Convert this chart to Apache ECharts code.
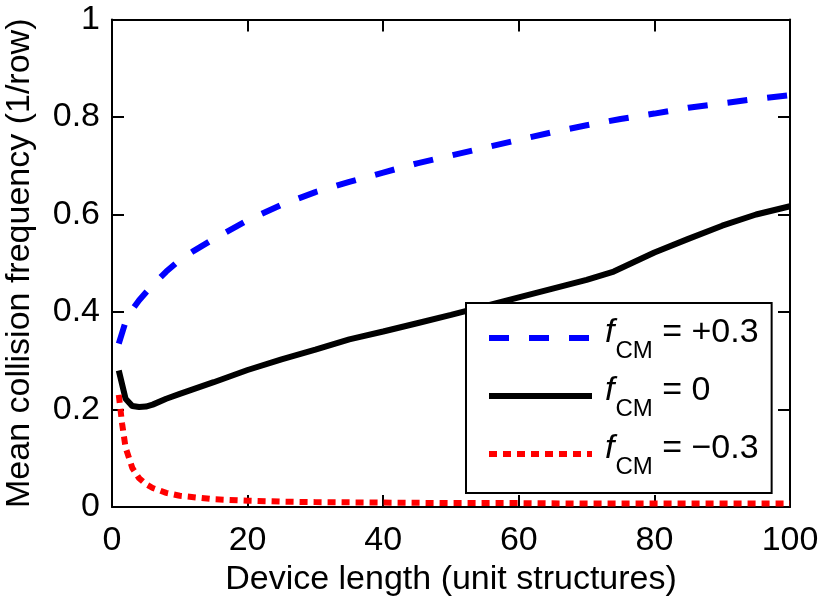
<!DOCTYPE html>
<html><head><meta charset="utf-8">
<script src="https://cdn.jsdelivr.net/npm/echarts@6/dist/echarts.min.js"></script>
<style>html,body{margin:0;padding:0;background:#fff}#c{width:822px;height:598px}</style>
</head><body><div id="c"></div>
<script>
// ---- data ----
const blueX = [1,2,3,4,5,6,8,10,12,15,20,25,30,35,40,45,50,55,60,65,70,75,80,85,90,95,100];
const blueY = [0.335,0.38,0.405,0.424,0.44,0.455,0.483,0.507,0.525,0.55,0.588,0.62,0.646,0.667,0.686,0.705,0.721,0.737,0.753,0.769,0.783,0.796,0.807,0.819,0.828,0.837,0.845];

const blackX = [1,2,3,4,5,6,8,10,15,20,25,30,35,40,45,50,55,60,65,70,74,80,85,90,95,100];
const blackY = [0.28,0.222,0.207,0.205,0.206,0.21,0.222,0.232,0.256,0.281,0.303,0.323,0.344,0.36,0.377,0.394,0.412,0.43,0.448,0.466,0.483,0.522,0.55,0.577,0.6,0.617];

const redX = [1,1.5,2,3,4,5,6,8,10,15,20,25,30,40,50,60,70,80,90,100];
const redY = [0.23,0.17,0.122,0.08,0.059,0.047,0.039,0.029,0.023,0.016,0.013,0.011,0.01,0.009,0.008,0.008,0.007,0.007,0.007,0.007];

const seriesNames = ['fCM = +0.3', 'fCM = 0', 'fCM = \u22120.3'];
const legendValues = ['+0.3', '0', '\u22120.3'];

const xMin = 0, xMax = 100, xInterval = 20;
const yMin = 0, yMax = 1, yInterval = 0.2;
const xTitle = 'Device length (unit structures)';
const yTitle = 'Mean collision frequency (1/row)';

// ---- chart ----
const FF = '"Liberation Sans", Arial, Helvetica, sans-serif';
const zip = (xs, ys) => xs.map((x, i) => [x, ys[i]]);

const axisLine = {show: true, onZero: false, lineStyle: {color: '#000', width: 2}};
const axisTick = {show: true, inside: true, length: 12, lineStyle: {color: '#000', width: 2}};

const chart = echarts.init(document.getElementById('c'), null, {renderer: 'canvas'});
chart.setOption({
  animation: false,
  backgroundColor: '#fff',
  grid: {left: 112, right: 32, top: 19.5, bottom: 91, containLabel: false, outerBoundsMode: 'none'},
  xAxis: [
    {type: 'value', min: xMin, max: xMax, interval: xInterval, position: 'bottom',
     axisLine, axisTick, splitLine: {show: false},
     axisLabel: {color: '#000', fontSize: 34, fontFamily: FF, margin: 17, showMinLabel: true, showMaxLabel: true},
     name: xTitle, nameLocation: 'middle', nameGap: 50,
     nameTextStyle: {color: '#000', fontSize: 34, fontFamily: FF}},
    {type: 'value', min: xMin, max: xMax, interval: xInterval, position: 'top',
     axisLine, axisTick, splitLine: {show: false}, axisLabel: {show: false}}
  ],
  yAxis: [
    {type: 'value', min: yMin, max: yMax, interval: yInterval, position: 'left',
     axisLine, axisTick, splitLine: {show: false},
     axisLabel: {color: '#000', fontSize: 34, fontFamily: FF, margin: 12, showMinLabel: true, showMaxLabel: true},
     name: yTitle, nameLocation: 'middle', nameGap: 75,
     nameTextStyle: {color: '#000', fontSize: 34, fontFamily: FF}},
    {type: 'value', min: yMin, max: yMax, interval: yInterval, position: 'right',
     axisLine, axisTick, splitLine: {show: false}, axisLabel: {show: false}}
  ],
  legend: {
    orient: 'vertical', left: 466, top: 303,
    padding: [13, 13, 14, 20],
    itemWidth: 103, itemHeight: 4, itemGap: 11,
    borderColor: '#000', borderWidth: 2, borderRadius: 0, backgroundColor: '#fff',
    selectedMode: false,
    data: seriesNames,
    itemStyle: {opacity: 0},
    lineStyle: {width: 6, type: 'inherit', color: 'inherit', cap: 'butt'},
    formatter: name => '{i|f}{s|CM}{n| = ' + legendValues[seriesNames.indexOf(name)] + '}',
    textStyle: {
      color: '#000', fontFamily: FF, fontSize: 34,
      rich: {
        i: {fontSize: 34, fontStyle: 'italic', fontFamily: FF, color: '#000', lineHeight: 44, verticalAlign: 'top', padding: [0, 0, 0, 8]},
        s: {fontSize: 24, fontFamily: FF, color: '#000', lineHeight: 24, verticalAlign: 'top', padding: [23, 0, 0, 1]},
        n: {fontSize: 34, fontFamily: FF, color: '#000', lineHeight: 44, verticalAlign: 'top'}
      }
    }
  },
  series: [
    {type: 'line', name: seriesNames[0], data: zip(blueX, blueY), symbol: 'none', smooth: false,
     lineStyle: {color: '#0000ff', width: 6, type: [20, 20], cap: 'butt'}, itemStyle: {color: '#0000ff'}},
    {type: 'line', name: seriesNames[1], data: zip(blackX, blackY), symbol: 'none', smooth: false,
     lineStyle: {color: '#000000', width: 6, type: 'solid'}, itemStyle: {color: '#000000'}},
    {type: 'line', name: seriesNames[2], data: zip(redX, redY), symbol: 'none', smooth: false,
     lineStyle: {color: '#ff0000', width: 6, type: [8, 6], cap: 'butt'}, itemStyle: {color: '#ff0000'}}
  ]
});
</script>
</body></html>
